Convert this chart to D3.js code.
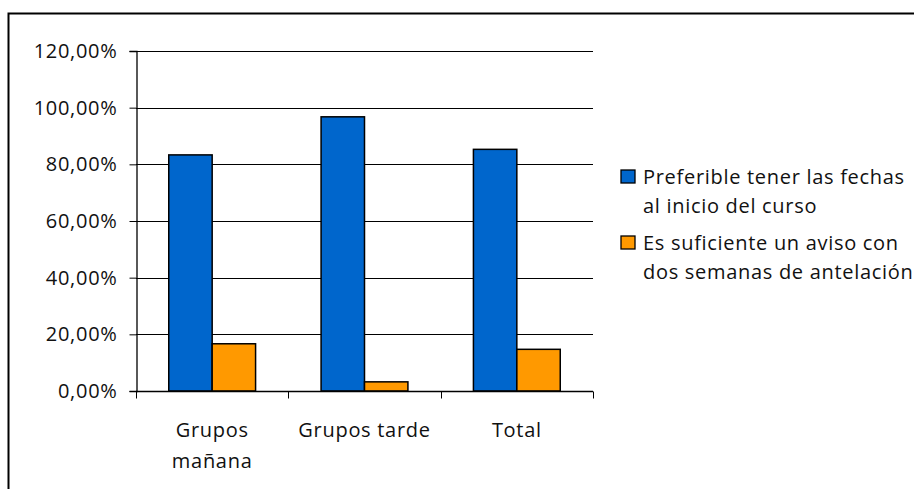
<!DOCTYPE html>
<html>
<head>
<meta charset="utf-8">
<script src="https://cdn.jsdelivr.net/npm/d3@7"></script>
<style>
  body { margin: 0; background: #fff; }
  svg { display: block; }
  svg text { font-family: "Open Sans", sans-serif; font-size: 20px; letter-spacing: 0.7px; fill: #111; }
</style>
</head>
<body>
<div id="chart"></div>
<script>
// Data
var categories = [["Grupos", "mañana"], ["Grupos tarde"], ["Total"]];
var seriesNames = [
    ["Preferible tener las fechas", "al inicio del curso"],
    ["Es suficiente un aviso con", "dos semanas de antelación"]
];
var preferible = [83.33, 96.77, 85.29];
var suficiente = [16.67, 3.23, 14.71];
var yTicks = [0, 20, 40, 60, 80, 100, 120];
var colors = ["#0066cc", "#ff9900"];

var width = 914, height = 489;
var plot = {left: 136, right: 593, top: 51, bottom: 391};

var svg = d3.select("#chart").append("svg")
    .attr("width", width)
    .attr("height", height);

// outer frame (runs off the right and bottom edges)
svg.append("rect")
    .attr("x", 8.5).attr("y", 13.5)
    .attr("width", width + 10).attr("height", height + 10)
    .attr("fill", "none")
    .attr("stroke", "#000")
    .attr("stroke-width", 2);

var x = d3.scaleBand()
    .domain(d3.range(categories.length))
    .range([plot.left, plot.right])
    .paddingInner(0)
    .paddingOuter(0);

var y = d3.scaleLinear()
    .domain([0, 120])
    .range([plot.bottom, plot.top]);

// gridlines
svg.append("g")
    .selectAll("line")
    .data(yTicks.slice(1))
    .join("line")
    .attr("x1", plot.left).attr("x2", plot.right)
    .attr("y1", d => Math.round(y(d)) + 0.5)
    .attr("y2", d => Math.round(y(d)) + 0.5)
    .attr("stroke", "#000");

// bars
var groupWidth = x.bandwidth() * 0.57;
var sub = d3.scaleBand()
    .domain([0, 1])
    .range([0, groupWidth]);

var seriesData = [preferible, suficiente];
seriesData.forEach(function(values, s) {
    svg.append("g")
        .selectAll("rect")
        .data(values)
        .join("rect")
        .attr("x", (d, i) => x(i) + (x.bandwidth() - groupWidth) / 2 + sub(s))
        .attr("y", d => y(d))
        .attr("width", sub.bandwidth())
        .attr("height", d => y(0) - y(d))
        .attr("fill", colors[s])
        .attr("stroke", "#000")
        .attr("stroke-width", 1.5);
});

// y axis
var yAxis = svg.append("g")
    .attr("transform", "translate(" + (plot.left + 0.5) + ",0)")
    .call(d3.axisLeft(y)
        .tickValues(yTicks)
        .tickSize(7)
        .tickPadding(12)
        .tickFormat(d => d3.format(".2f")(d).replace(".", ",") + "%"));
yAxis.attr("font-family", null).attr("font-size", null);
yAxis.select(".domain").attr("stroke", "#000").attr("stroke-width", 1.3);
yAxis.selectAll(".tick line").attr("stroke", "#000");

// x axis: baseline and boundary ticks
var xAxis = svg.append("g")
    .attr("transform", "translate(0," + (plot.bottom + 0.5) + ")");
xAxis.append("line")
    .attr("x1", plot.left).attr("x2", plot.right)
    .attr("stroke", "#000").attr("stroke-width", 1.3);
xAxis.selectAll("line.tk")
    .data(d3.range(categories.length + 1))
    .join("line")
    .attr("class", "tk")
    .attr("x1", i => Math.round(i < categories.length ? x(i) : plot.right) + 0.5)
    .attr("x2", i => Math.round(i < categories.length ? x(i) : plot.right) + 0.5)
    .attr("y1", 0).attr("y2", 7)
    .attr("stroke", "#000");

xAxis.selectAll("text")
    .data(categories)
    .join("text")
    .attr("x", (d, i) => x(i) + x.bandwidth() / 2)
    .attr("y", 45)
    .attr("text-anchor", "middle")
    .each(function(lines) {
        var t = d3.select(this);
        lines.forEach(function(l, k) {
            t.append("tspan")
                .attr("x", t.attr("x"))
                .attr("dy", k === 0 ? 0 : 31)
                .text(l);
        });
    });

// legend
var legend = svg.append("g").attr("transform", "translate(621,170)");
seriesNames.forEach(function(lines, s) {
    var item = legend.append("g").attr("transform", "translate(0," + (s * 66) + ")");
    item.append("rect")
        .attr("width", 14).attr("height", 13)
        .attr("fill", colors[s])
        .attr("stroke", "#000")
        .attr("stroke-width", 1.3);
    var txt = item.append("text")
        .attr("x", 22)
        .attr("y", 14);
    lines.forEach(function(l, k) {
        txt.append("tspan")
            .attr("x", 22)
            .attr("dy", k === 0 ? 0 : 29)
            .text(l);
    });
});
</script>
</body>
</html>
